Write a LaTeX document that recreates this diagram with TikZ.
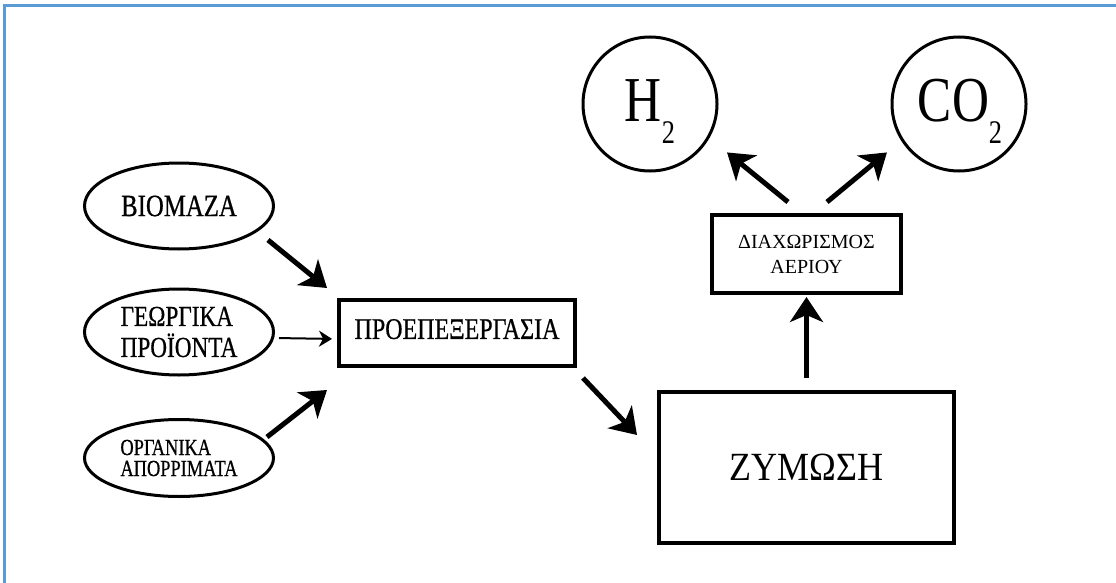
\documentclass[tikz,border=0pt]{standalone}
\usepackage{fontspec}
\setmainfont{Liberation Serif}
\newfontfamily\narrowfont[FakeStretch=0.8,FakeBold=0.6]{Liberation Serif}
\newfontfamily\gasfont[FakeStretch=0.8]{Liberation Serif}
\newfontfamily\semifont[FakeStretch=0.9]{Liberation Serif}
\usetikzlibrary{shapes.geometric,arrows.meta}
\definecolor{frameblue}{RGB}{91,155,213}
\newcommand{\chemsub}[1]{\raisebox{-22pt}[0pt][0pt]{\fontsize{33}{33}\selectfont #1}}

\tikzset{
	source/.style={ellipse,draw,line width=3pt,minimum width=189pt,minimum height=86pt,inner sep=0pt,align=left},
	stage/.style={rectangle,draw,line width=4pt,inner sep=0pt,align=center},
	gas/.style={circle,draw,line width=3pt,minimum size=134pt,inner sep=0pt},
	gaslabel/.style={inner sep=0pt,font=\gasfont\fontsize{64}{64}\selectfont},
	flow/.style={line width=5pt,-{Stealth[length=25pt,width=33pt,inset=7pt]}},
	thinflow/.style={line width=2pt,-{Stealth[length=13pt,width=16pt,inset=4pt]}}
}

\begin{document}
\begin{tikzpicture}[x=1pt,y=-1pt]
	\useasboundingbox (0,0) rectangle (1116,583);
	\draw[frameblue,line width=3.5pt] (4.5,583) -- (4.5,5.5) -- (1116,5.5);

	\node[source,font=\narrowfont\fontsize{31}{31}\selectfont] (bio) at (179,206) {ΒΙΟΜΑΖΑ};
	\node[source,font=\narrowfont\fontsize{29}{31}\selectfont] (agro) at (179,332) {ΓΕΩΡΓΙΚΑ\\ΠΡΟΪΟΝΤΑ};
	\node[source,minimum height=77pt,font=\narrowfont\fontsize{23}{21}\selectfont] (waste) at (179,458) {ΟΡΓΑΝΙΚΑ\\ΑΠΟΡΡΙΜΑΤΑ};

	\node[stage,minimum width=236pt,minimum height=66pt,text depth=8pt,font=\narrowfont\fontsize{30}{30}\selectfont] (prep) at (457,333) {ΠΡΟΕΠΕΞΕΡΓΑΣΙΑ};
	\node[stage,minimum width=295pt,minimum height=151pt,font=\semifont\fontsize{40}{40}\selectfont] (ferm) at (806.5,467.5) {ΖΥΜΩΣΗ};
	\node[stage,minimum width=189pt,minimum height=78pt,font=\fontsize{20}{25}\selectfont] (sep) at (806.5,254) {ΔΙΑΧΩΡΙΣΜΟΣ\\ΑΕΡΙΟΥ};

	\node[gas] (h2) at (650,104) {};
	\node[gas] (co2) at (959,104) {};
	\node[gaslabel] (h2txt) at (650,100.5) {H\chemsub{2}};
	\node[gaslabel] (co2txt) at (960,100.5) {CO\chemsub{2}};

	\draw[flow] ([xshift=-7pt,yshift=-34pt]bio.east) -- ([xshift=-10pt,yshift=10pt]prep.north west);
	\draw[thinflow,shorten <=4pt,shorten >=5pt] ([yshift=-6pt]agro.east) -- ([yshift=-6pt]prep.west);
	\draw[flow] ([xshift=-8pt,yshift=21pt]waste.east) -- ([xshift=-10pt,yshift=-22pt]prep.south west);
	\draw[flow] ([xshift=6pt,yshift=-10pt]prep.south east) -- ([xshift=-20pt,yshift=-45pt]ferm.north west);
	\draw[flow] ([yshift=12pt]ferm.north) -- ([yshift=-2pt]sep.south);
	\draw[flow] ([xshift=-18.5pt,yshift=11pt]sep.north) -- ([xshift=28.6pt]h2.south east);
	\draw[flow] ([xshift=20.5pt,yshift=11pt]sep.north) -- ([xshift=-23.6pt]co2.south west);
\end{tikzpicture}
\end{document}
